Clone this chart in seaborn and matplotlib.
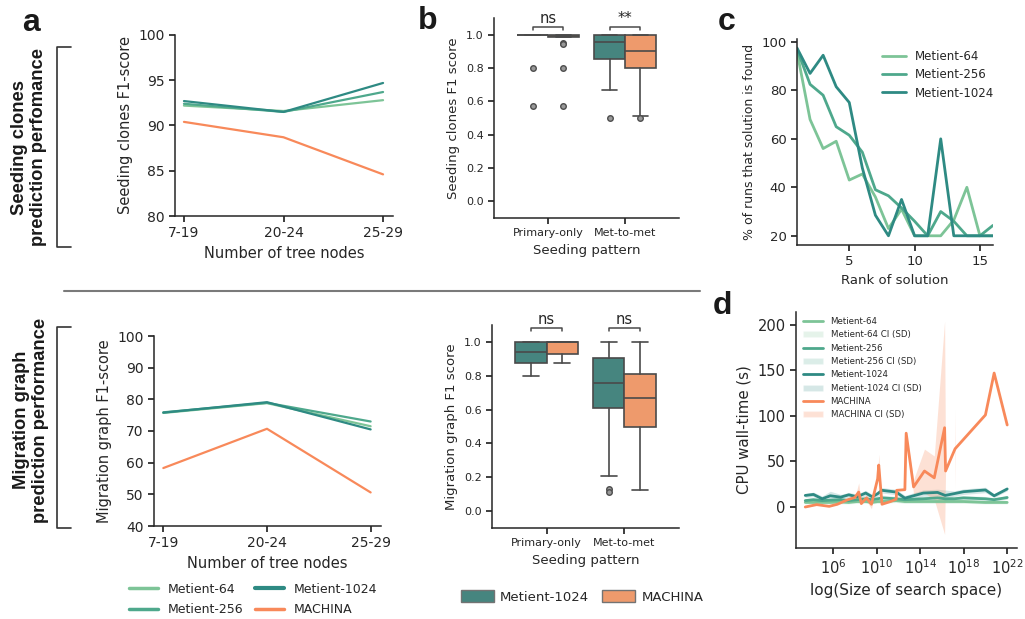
"""Metient vs MACHINA benchmark figure: F1 by tree size, box plots, rank recovery and runtime."""

import matplotlib

matplotlib.use("Agg")
import matplotlib.pyplot as plt
import numpy as np
import pandas as pd
import seaborn as sns
from matplotlib.lines import Line2D
from matplotlib.patches import Patch

RUNS = ["Metient-64", "Metient-256", "Metient-1024", "MACHINA"]
PALETTE = {
    "Metient-64": "#7dc497",
    "Metient-256": "#4ea88c",
    "Metient-1024": "#2e8a83",
    "MACHINA": "#f8895a",
}
BOX_COLORS = ["#46857f", "#ee9a6c"]
EDGE = "#4a4a4a"
BOLD_FONT = "Liberation Sans"

# panel a: F1 by number of tree nodes
NODE_BINS = ["7-19", "20-24", "25-29"]
SEED_F1_M64 = [92.2, 91.6, 92.8]
SEED_F1_M256 = [92.4, 91.5, 93.7]
SEED_F1_M1024 = [92.7, 91.5, 94.7]
SEED_F1_MACHINA = [90.4, 88.7, 84.6]
MIG_F1_M64 = [75.7, 78.8, 71.5]
MIG_F1_M256 = [75.9, 78.9, 73.0]
MIG_F1_M1024 = [75.8, 79.1, 70.5]
MIG_F1_MACHINA = [58.3, 70.7, 50.6]

# panel b: box statistics, order = (Metient-1024, MACHINA) x (Primary-only, Met-to-met)
PATTERNS = ["Primary-only", "Met-to-met"]
SEED_MED = [1.00, 0.995, 0.958, 0.90]
SEED_Q1 = [1.00, 0.988, 0.856, 0.80]
SEED_Q3 = [1.00, 1.00, 1.00, 1.00]
SEED_LO = [1.00, 0.988, 0.668, 0.514]
SEED_HI = [1.00, 1.00, 1.00, 1.00]
SEED_FLIERS = [[0.80, 0.57], [0.948, 0.942, 0.80, 0.57], [0.50], [0.50]]
SEED_SIG = ["ns", "**"]
MIG_MED = [0.943, 1.00, 0.758, 0.671]
MIG_Q1 = [0.878, 0.931, 0.612, 0.50]
MIG_Q3 = [1.00, 1.00, 0.904, 0.809]
MIG_LO = [0.80, 0.878, 0.209, 0.126]
MIG_HI = [1.00, 1.00, 1.00, 1.00]
MIG_FLIERS = [[], [], [0.13, 0.11], []]
MIG_SIG = ["ns", "ns"]

# panel c: % of runs in which the solution of a given rank is found
RANKS = list(range(1, 17))
FOUND_M64 = [96, 68, 56, 59, 43, 45.5, 36, 23, 31, 20, 20, 20, 26.5, 40, 20, 20]
FOUND_M256 = [97, 82.5, 78, 65, 61.5, 54.5, 39, 36.5, 31.5, 26, 20, 30, 26, 20, 20, 24.3]
FOUND_M1024 = [97.5, 87, 94.5, 81.5, 75, 48, 28.5, 20, 35, 20, 20, 60, 20, 20, 20, 20]

# panel d: CPU wall-time vs log10(size of search space)
METIENT_LOG_SPACE = [3.45, 4.2, 5.0, 5.75, 6.7, 7.45, 8.2, 9.0, 9.6, 10.1, 10.5,
                     11.8, 12.6, 14.3, 15.6, 16.3, 17.1, 18.0, 20.0, 20.8, 22.0]
M64_TIME = [5, 5, 5, 5, 5.5, 5, 6, 6, 5, 6, 6, 7, 6, 6, 6, 6, 6, 6, 5, 5, 5]
M64_SD = [1.5, 1.5, 1.5, 1.5, 2, 1.5, 2, 2, 1.5, 2, 2, 2, 2, 2, 2, 2, 2, 2, 1.5, 1.5, 1.5]
M256_TIME = [7, 8, 7, 7.5, 8, 7, 8, 9, 8, 9, 10, 9, 8, 9, 10, 9, 9, 10, 9, 8, 10.4]
M256_SD = [2, 2, 2, 2, 2.5, 2, 2.5, 2.5, 2, 2.5, 3, 2.5, 2.5, 2.5, 3, 3, 2.5, 2.5, 2.5, 2, 2]
M1024_TIME = [12.7, 13.8, 9, 12.3, 10.8, 13.4, 11.2, 15.3, 11.2, 14.6, 18.3,
              16.4, 9.7, 15.3, 16, 12.7, 14.6, 16.8, 18.7, 12.3, 19.8]
M1024_SD = [2, 2.5, 3, 5, 3, 2.5, 3, 3, 2.5, 3, 3, 3, 3, 3.5, 3.5, 6, 3, 3, 3, 2, 2]
MACHINA_LOG_SPACE = [3.45, 4.5, 5.65, 6.4, 7.3, 8.0, 8.36, 8.6, 9.07, 9.53, 10.1, 10.2,
                     10.5, 11.28, 11.8, 11.85, 12.6, 12.72, 13.4, 14.4, 15.3, 16.25,
                     16.34, 17.18, 17.2, 17.22, 20.0, 20.8, 22.0]
MACHINA_TIME = [0, 2.6, 0.7, 3, 7.8, 10.4, 16.4, 3.7, 10, 3, 31, 46,
                3, 6, 8.6, 18.3, 19, 81, 22, 39.5, 32, 87,
                39.5, 63, 63.5, 64, 101, 147, 90]
MACHINA_SD = [0, 0, 0, 0, 0, 0, 10, 0, 3, 5, 0, 12,
              0, 0, 0, 0, 0, 0, 8, 24, 24, 117,
              0, 0, 44, 0, 0, 0, 0]

W, H = 1025, 619


def px_axes(fig, left, top, right, bottom):
    return fig.add_axes([left / W, 1 - bottom / H, (right - left) / W, (bottom - top) / H])


def tree_node_panel(ax, series, ylabel, ylim, yticks):
    table = pd.DataFrame(
        [(run, i, v) for run, values in zip(RUNS, series) for i, v in enumerate(values)],
        columns=["run", "bin", "f1"],
    )
    sns.lineplot(data=table, x="bin", y="f1", hue="run", hue_order=RUNS, palette=PALETTE,
                 linewidth=1.6, legend=False, ax=ax)
    ax.set_xticks(range(len(NODE_BINS)), NODE_BINS)
    ax.set_yticks(yticks)
    ax.set(xlim=(-0.09, 2.1), ylim=ylim)
    ax.set_xlabel("Number of tree nodes", fontsize=10.5)
    ax.set_ylabel(ylabel, fontsize=10.5)
    ax.tick_params(labelsize=10)


def box_panel(ax, med, q1, q3, lo, hi, fliers, sig, ylabel, bracket_y):
    stats = [dict(med=m, q1=a, q3=b, whislo=l, whishi=h, fliers=f)
             for m, a, b, l, h, f in zip(med, q1, q3, lo, hi, fliers)]
    positions = [i + off for i in range(len(PATTERNS)) for off in (-0.2, 0.2)]
    line = dict(color=EDGE, linewidth=1.2)
    art = ax.bxp(stats, positions=positions, widths=0.4, capwidths=0.2, patch_artist=True,
                 manage_ticks=False, boxprops=dict(edgecolor=EDGE, linewidth=1.2),
                 medianprops=line, whiskerprops=line, capprops=line,
                 flierprops=dict(marker="o", markerfacecolor="0.6", markeredgecolor="0.3",
                                 markersize=4, linestyle="none"))
    for patch, color in zip(art["boxes"], BOX_COLORS * len(PATTERNS)):
        patch.set_facecolor(color)
    for i, label in enumerate(sig):
        ax.plot([i - 0.2, i - 0.2, i + 0.2, i + 0.2],
                [bracket_y - 0.015, bracket_y, bracket_y, bracket_y - 0.015],
                color=EDGE, lw=1.1, clip_on=False)
        ax.text(i, bracket_y + 0.008, label, ha="center", va="bottom", fontsize=10.5,
                color=".15", clip_on=False)
    ax.set_xticks(range(len(PATTERNS)), PATTERNS)
    ax.set_yticks(np.arange(0, 1.01, 0.2))
    ax.set(xlim=(-0.7, 1.7), ylim=(-0.1, 1.1))
    ax.set_xlabel("Seeding pattern", fontsize=9.5)
    ax.set_ylabel(ylabel, fontsize=9.5)
    ax.tick_params(labelsize=8)


def main():
    sns.set_theme(style="ticks")
    plt.rcParams["font.family"] = ["DejaVu Sans"]
    plt.rcParams["axes.linewidth"] = 1.1
    plt.rcParams["xtick.major.size"] = 4
    plt.rcParams["ytick.major.size"] = 4

    fig = plt.figure(figsize=(W / 100, H / 100), dpi=100)

    # a
    ax_a1 = px_axes(fig, 175, 35, 393, 216)
    tree_node_panel(ax_a1, [SEED_F1_M64, SEED_F1_M256, SEED_F1_M1024, SEED_F1_MACHINA],
                    "Seeding clones F1-score", (80, 100), range(80, 101, 5))
    ax_a2 = px_axes(fig, 154, 336, 381, 526)
    tree_node_panel(ax_a2, [MIG_F1_M64, MIG_F1_M256, MIG_F1_M1024, MIG_F1_MACHINA],
                    "Migration graph F1-score", (40, 100), range(40, 101, 10))

    # b
    ax_b1 = px_axes(fig, 494, 18, 679, 218)
    box_panel(ax_b1, SEED_MED, SEED_Q1, SEED_Q3, SEED_LO, SEED_HI, SEED_FLIERS, SEED_SIG,
              "Seeding clones F1 score", 1.044)
    ax_b2 = px_axes(fig, 492, 325, 679, 528)
    box_panel(ax_b2, MIG_MED, MIG_Q1, MIG_Q3, MIG_LO, MIG_HI, MIG_FLIERS, MIG_SIG,
              "Migration graph F1 score", 1.08)

    # c
    ax_c = px_axes(fig, 797, 39, 993, 245)
    found = pd.DataFrame(
        [(run, r, v) for run, values in zip(RUNS[:3], [FOUND_M64, FOUND_M256, FOUND_M1024])
         for r, v in zip(RANKS, values)],
        columns=["run", "rank", "pct"],
    )
    sns.lineplot(data=found, x="rank", y="pct", hue="run", hue_order=RUNS[:3],
                 palette=PALETTE, linewidth=2, ax=ax_c)
    ax_c.set(xlim=(1, 16), ylim=(16.2, 101.2))
    ax_c.set_xticks([5, 10, 15])
    ax_c.set_yticks(range(20, 101, 20))
    ax_c.set_xlabel("Rank of solution", fontsize=9.5)
    ax_c.set_ylabel("% of runs that solution is found", fontsize=9)
    ax_c.tick_params(labelsize=9.5)
    ax_c.legend(loc="upper right", bbox_to_anchor=(1.03, 0.97), frameon=False, fontsize=8.5,
                handlelength=2.0, handletextpad=0.75, labelspacing=0.45, borderaxespad=0)

    # d
    ax_d = px_axes(fig, 796, 312, 1017, 548)
    series = [
        ("Metient-64", METIENT_LOG_SPACE, M64_TIME, M64_SD, 0.2),
        ("Metient-256", METIENT_LOG_SPACE, M256_TIME, M256_SD, 0.2),
        ("Metient-1024", METIENT_LOG_SPACE, M1024_TIME, M1024_SD, 0.2),
        ("MACHINA", MACHINA_LOG_SPACE, MACHINA_TIME, MACHINA_SD, 0.25),
    ]
    handles = []
    for run, log_x, mean, sd, alpha in series:
        x = np.power(10.0, log_x)
        mean = np.asarray(mean, dtype=float)
        sd = np.asarray(sd, dtype=float)
        ax_d.fill_between(x, mean - sd, mean + sd, color=PALETTE[run], alpha=alpha, lw=0)
        sns.lineplot(x=x, y=mean, color=PALETTE[run], linewidth=2, estimator=None,
                     sort=False, ax=ax_d)
        handles += [Line2D([], [], color=PALETTE[run], lw=2, label=run),
                    Patch(facecolor=PALETTE[run], alpha=alpha, label=f"{run} CI (SD)")]
    ax_d.set_xscale("log")
    ax_d.set_xlim(10 ** 2.6, 10 ** 22.9)
    ax_d.set_ylim(-45, 214)
    ax_d.set_xticks([1e6, 1e10, 1e14, 1e18, 1e22])
    ax_d.xaxis.set_minor_locator(matplotlib.ticker.NullLocator())
    ax_d.set_yticks(range(0, 201, 50))
    ax_d.set_xlabel("log(Size of search space)", fontsize=11)
    ax_d.set_ylabel("CPU wall-time (s)", fontsize=10.8)
    ax_d.tick_params(labelsize=10.5)
    ax_d.legend(handles=handles, loc="upper left", bbox_to_anchor=(0.01, 1.0), frameon=False,
                fontsize=6.2, handlelength=2.3, handletextpad=0.85, labelspacing=0.5,
                borderaxespad=0.2)

    for ax in (ax_a1, ax_a2, ax_b1, ax_b2, ax_c, ax_d):
        sns.despine(ax=ax)

    # bottom legends
    line_handles = [Line2D([], [], color=PALETTE[r], lw=3 if r == "Metient-1024" else 2.5,
                           label=r) for r in RUNS]
    fig.legend(handles=line_handles, loc="center", bbox_to_anchor=(0.247, 0.0315), ncol=2,
               frameon=False, fontsize=9, handlelength=2.3, handletextpad=0.8,
               columnspacing=0.9, labelspacing=0.6)
    box_handles = [Patch(facecolor=c, edgecolor="0.45", label=r)
                   for c, r in zip(BOX_COLORS, ["Metient-1024", "MACHINA"])]
    fig.legend(handles=box_handles, loc="center", bbox_to_anchor=(0.568, 0.0355), ncol=2,
               frameon=False, fontsize=9.5, handlelength=2.5, handleheight=1.0,
               handletextpad=0.45, columnspacing=1.0)

    # panel letters, row labels, brackets, separator
    for letter, x, y in [("a", 31, 23), ("b", 428, 21), ("c", 727, 22), ("d", 722, 306)]:
        fig.text(x / W, 1 - y / H, letter, ha="center", va="center", fontsize=23,
                 fontweight="bold", family=BOLD_FONT, color="#1a1a1a")
    for label, x, y in [("Seeding clones\nprediction perfomance", 29, 147),
                        ("Migration graph\nprediction performance", 31, 420)]:
        fig.text(x / W, 1 - y / H, label, rotation=90, ha="center", va="center",
                 fontsize=13.2, fontweight="bold", family=BOLD_FONT, linespacing=1.2,
                 color="#1a1a1a")
    for top, bottom in [(47, 247), (327, 528)]:
        fig.add_artist(Line2D(np.array([71, 57, 57, 71]) / W,
                              1 - np.array([top, top, bottom, bottom]) / H,
                              color="#333333", lw=1.2))
    fig.add_artist(Line2D([64 / W, 700 / W], [1 - 291 / H] * 2, color="#7a7a7a", lw=1.5))

    fig.savefig("out.png", dpi=100)
    plt.close(fig)


if __name__ == "__main__":
    main()
